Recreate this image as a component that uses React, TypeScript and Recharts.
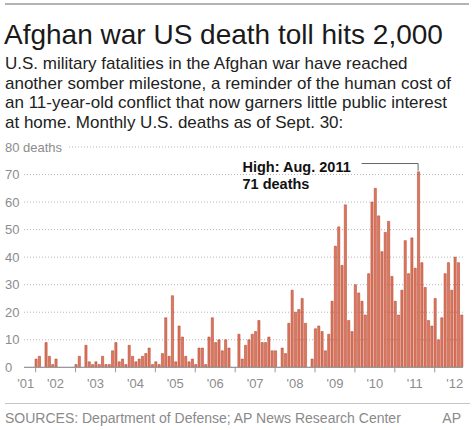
import React from 'react';
import { BarChart, Bar, XAxis, YAxis, CartesianGrid, ReferenceLine } from 'recharts';

// Monthly U.S. deaths (2001 starts in October, 2012 ends in September)
const deaths2001 = [0, 0, 0];
const deaths2002 = [3, 4, 0, 9, 4, 1, 3, 0, 0, 0, 0, 0];
const deaths2003 = [1, 4, 0, 8, 2, 1, 2, 1, 4, 1, 1, 6];
const deaths2004 = [9, 2, 3, 1, 8, 4, 2, 3, 4, 5, 7, 1];
const deaths2005 = [2, 1, 5, 18, 4, 26, 2, 15, 11, 4, 2, 3];
const deaths2006 = [1, 7, 7, 1, 11, 18, 9, 10, 6, 10, 7, 0];
const deaths2007 = [0, 12, 3, 8, 10, 12, 13, 17, 9, 9, 11, 6];
const deaths2008 = [6, 0, 7, 5, 16, 28, 20, 21, 25, 16, 0, 3];
const deaths2009 = [14, 15, 13, 6, 12, 24, 44, 51, 37, 59, 17, 13];
const deaths2010 = [30, 27, 24, 19, 34, 60, 65, 55, 42, 49, 53, 33];
const deaths2011 = [24, 19, 28, 46, 34, 47, 36, 71, 38, 29, 17, 15];
const deaths2012 = [25, 10, 18, 34, 38, 28, 40, 38, 19];

const yearSeries: [number, number, number[]][] = [
  [2001, 10, deaths2001],
  [2002, 1, deaths2002],
  [2003, 1, deaths2003],
  [2004, 1, deaths2004],
  [2005, 1, deaths2005],
  [2006, 1, deaths2006],
  [2007, 1, deaths2007],
  [2008, 1, deaths2008],
  [2009, 1, deaths2009],
  [2010, 1, deaths2010],
  [2011, 1, deaths2011],
  [2012, 1, deaths2012],
];

const yTicks = [0, 10, 20, 30, 40, 50, 60, 70, 80];
const yearLabelPrefix = "'";

const highMonth = '2011-08';
const highValue = 71;
const highLabel1 = 'High: Aug. 2011';
const highLabel2 = '71 deaths';
const leaderStartMonth = '2010-03';
const leaderValue = 74;

const title = 'Afghan war US death toll hits 2,000';
const subtitleLines = [
  'U.S. military fatalities in the Afghan war have reached',
  'another somber milestone, a reminder of the human cost of',
  'an 11-year-old conflict that now garners little public interest',
  'at home. Monthly U.S. deaths as of Sept. 30:',
];
const sourceText = 'SOURCES: Department of Defense; AP News Research Center';
const creditText = 'AP';

const pad = (n: number) => (n < 10 ? '0' + n : '' + n);
const data: { month: string; deaths: number }[] = [];
yearSeries.forEach(([year, startMonth, values]) => {
  values.forEach((v, i) => {
    data.push({ month: `${year}-${pad(startMonth + i)}`, deaths: v });
  });
});

const FONT = '"Liberation Sans", Arial, Helvetica, sans-serif';
const AXIS_GRAY = '#8c8c8c';

const XTick = (props: any) => {
  const { x, y, payload } = props;
  const key: string = payload.value;
  const [yr, mo] = key.split('-');
  const isJan = mo === '01';
  const isLabel = mo === '07' || key === '2001-10';
  return (
    <g>
      {isJan && <line x1={x} y1={y} x2={x} y2={y + 5} stroke="#999" strokeWidth={1} />}
      {isLabel && (
        <text x={x} y={y + 21} textAnchor="middle" fill={AXIS_GRAY} fontSize={13} fontFamily={FONT}>
          {yearLabelPrefix + yr.slice(2)}
        </text>
      )}
    </g>
  );
};

const YTick = (props: any) => {
  const { y, payload } = props;
  const v: number = payload.value;
  const label = v === 80 ? '80 deaths' : String(v);
  return (
    <g>
      {v === 80 && <rect x={22} y={y - 6} width={47} height={12} fill="#fff" />}
      <text x={5} y={y + 4.5} textAnchor="start" fill={AXIS_GRAY} fontSize={13} fontFamily={FONT}>
        {label}
      </text>
    </g>
  );
};

export default function App() {
  return (
    <div
      style={{
        position: 'absolute',
        left: 0,
        top: 0,
        width: 474,
        height: 430,
        background: '#fff',
        fontFamily: FONT,
        overflow: 'hidden',
      }}
    >
      <div style={{ position: 'absolute', left: 5, top: 3, width: 464, height: 2, background: '#b3b3b3' }} />
      <div
        style={{
          position: 'absolute',
          left: 4,
          top: 21.3,
          fontSize: 28,
          lineHeight: '28px',
          color: '#1a1a1a',
          whiteSpace: 'nowrap',
        }}
      >
        {title}
      </div>
      <div
        style={{
          position: 'absolute',
          left: 5,
          top: 53.8,
          fontSize: 17,
          lineHeight: '19.7px',
          color: '#222',
          whiteSpace: 'nowrap',
        }}
      >
        {subtitleLines.map((l, i) => (
          <div key={i}>{l}</div>
        ))}
      </div>

      <div style={{ position: 'absolute', left: 0, top: 0 }}>
        <BarChart
          width={474}
          height={430}
          data={data}
          margin={{ top: 147, right: 11, bottom: 32.7, left: 0 }}
          barCategoryGap={0}
        >
          <CartesianGrid vertical={false} stroke="#b5b5b5" strokeDasharray="1 2" />
          <YAxis
            width={24}
            domain={[0, 80]}
            ticks={yTicks}
            interval={0}
            axisLine={false}
            tickLine={false}
            tick={<YTick />}
          />
          <XAxis
            dataKey="month"
            interval={0}
            tickLine={false}
            tickSize={0}
            tickMargin={0}
            axisLine={{ stroke: '#999', strokeWidth: 1.2 }}
            tick={<XTick />}
            height={30}
          />
          <Bar
            dataKey="deaths"
            fill="#df765d"
            stroke="#ad402a"
            strokeWidth={0.5}
            barSize={2.2}
            isAnimationActive={false}
          />
          <ReferenceLine
            segment={[
              { x: leaderStartMonth, y: leaderValue },
              { x: highMonth, y: leaderValue },
            ]}
            stroke="#666"
            strokeWidth={1}
          />
          <ReferenceLine
            segment={[
              { x: highMonth, y: leaderValue },
              { x: highMonth, y: highValue + 0.4 },
            ]}
            stroke="#666"
            strokeWidth={1}
          />
        </BarChart>
      </div>

      <div
        style={{
          position: 'absolute',
          left: 242.5,
          top: 158.5,
          fontSize: 14.5,
          lineHeight: '17.6px',
          fontWeight: 'bold',
          color: '#111',
          whiteSpace: 'nowrap',
        }}
      >
        <div>{highLabel1}</div>
        <div>{highLabel2}</div>
      </div>

      <div style={{ position: 'absolute', left: 5, top: 402.5, width: 465, height: 1.5, background: '#c4c4c4' }} />
      <div
        style={{
          position: 'absolute',
          left: 5,
          top: 410,
          fontSize: 14,
          lineHeight: '16px',
          color: '#8a8a8a',
          whiteSpace: 'nowrap',
        }}
      >
        {sourceText}
      </div>
      <div
        style={{
          position: 'absolute',
          right: 13,
          top: 410,
          fontSize: 14,
          lineHeight: '16px',
          color: '#8a8a8a',
          whiteSpace: 'nowrap',
        }}
      >
        {creditText}
      </div>
    </div>
  );
}
